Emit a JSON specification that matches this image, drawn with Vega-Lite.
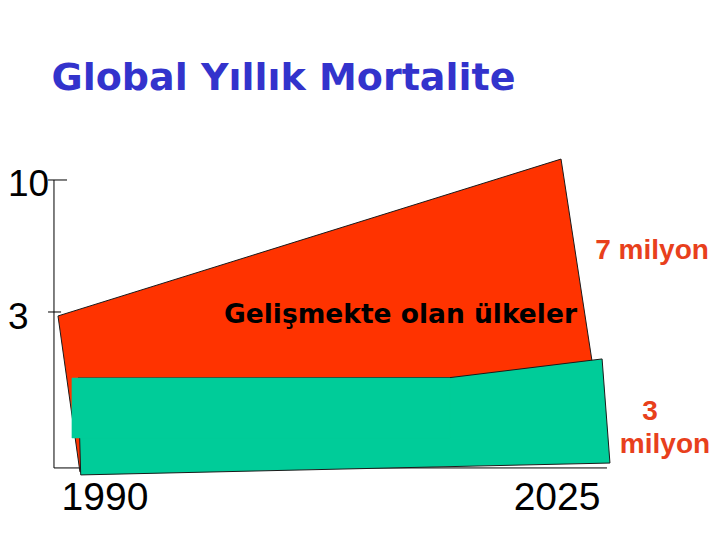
{
  "$schema": "https://vega.github.io/schema/vega-lite/v6.json",
  "width": 720,
  "height": 540,
  "autosize": {"type": "fit", "contains": "padding"},
  "padding": 0,
  "background": "#ffffff",
  "config": {"view": {"stroke": null}},
  "datasets": {
    "shapes": [
      {"shape": "red", "i": 1, "year": 1986.36, "value": 2.79},
      {"shape": "red", "i": 2, "year": 2025.31, "value": 11.11},
      {"shape": "red", "i": 3, "year": 2027.71, "value": 0.40},
      {"shape": "red", "i": 4, "year": 2028.33, "value": -4.85},
      {"shape": "red", "i": 5, "year": 1988.06, "value": -5.48},
      {"shape": "greenquad", "i": 1, "year": 1987.91, "value": -0.50},
      {"shape": "greenquad", "i": 2, "year": 2016.71, "value": -0.48},
      {"shape": "greenquad", "i": 3, "year": 2028.49, "value": 0.51},
      {"shape": "greenquad", "i": 4, "year": 2029.10, "value": -5.01},
      {"shape": "greenquad", "i": 5, "year": 1988.12, "value": -5.64},
      {"shape": "greenrect", "i": 1, "year": 1987.44, "value": -0.50},
      {"shape": "greenrect", "i": 2, "year": 2016.71, "value": -0.50},
      {"shape": "greenrect", "i": 3, "year": 2016.71, "value": -3.68},
      {"shape": "greenrect", "i": 4, "year": 1987.44, "value": -3.68}
    ],
    "axes": [
      {"part": "yaxis", "x1": 1986.05, "x2": 1986.05, "y1": 10, "y2": -5.27},
      {"part": "xaxis", "x1": 1986.05, "x2": 2028.87, "y1": -5.27, "y2": -5.27},
      {"part": "tick10", "x1": 1985.59, "x2": 1987.06, "y1": 10, "y2": 10},
      {"part": "tick3", "x1": 1985.59, "x2": 1986.6, "y1": 3, "y2": 3}
    ],
    "labels": [
      {"kind": "title", "text": "Global Yıllık Mortalite", "year": 2003.82, "value": 14.77},
      {"kind": "ytick", "text": "10", "year": 1982.49, "value": 9.15},
      {"kind": "ytick", "text": "3", "year": 1982.49, "value": 2.10},
      {"kind": "xtick", "text": "1990", "year": 1990, "value": -7.5},
      {"kind": "xtick", "text": "2025", "year": 2025, "value": -7.5},
      {"kind": "region", "text": "Gelişmekte olan ülkeler", "year": 2012.88, "value": 2.42},
      {"kind": "amount", "text": "7 milyon", "year": 2032.36, "value": 5.81},
      {"kind": "amount", "text": "3", "year": 2032.2, "value": -2.73},
      {"kind": "amount", "text": "milyon", "year": 2033.36, "value": -4.48}
    ]
  },
  "encoding": {
    "x": {"field": "year", "type": "quantitative", "scale": {"domain": [1981.87, 2037.62], "nice": false, "zero": false}, "axis": null},
    "y": {"field": "value", "type": "quantitative", "scale": {"domain": [-9.091, 19.545], "nice": false, "zero": false}, "axis": null}
  },
  "layer": [
    {
      "data": {"name": "axes"},
      "mark": {"type": "rule", "color": "#000000", "strokeWidth": 1},
      "encoding": {
        "x": {"field": "x1", "type": "quantitative"},
        "x2": {"field": "x2"},
        "y": {"field": "y1", "type": "quantitative"},
        "y2": {"field": "y2"}
      }
    },
    {
      "data": {"name": "shapes"},
      "transform": [{"filter": "datum.shape == 'red'"}],
      "mark": {"type": "line", "interpolate": "linear-closed", "fill": "#FF3300", "stroke": "#1a1a1a", "strokeWidth": 1},
      "encoding": {"order": {"field": "i", "type": "quantitative"}}
    },
    {
      "data": {"name": "shapes"},
      "transform": [{"filter": "datum.shape == 'greenquad'"}],
      "mark": {"type": "line", "interpolate": "linear-closed", "fill": "#00CC99", "stroke": "#1a1a1a", "strokeWidth": 1},
      "encoding": {"order": {"field": "i", "type": "quantitative"}}
    },
    {
      "data": {"name": "shapes"},
      "transform": [{"filter": "datum.shape == 'greenrect'"}],
      "mark": {"type": "line", "interpolate": "linear-closed", "fill": "#00CC99", "stroke": "#00CC99", "strokeWidth": 0.5},
      "encoding": {"order": {"field": "i", "type": "quantitative"}}
    },
    {
      "data": {"name": "labels"},
      "transform": [{"filter": "datum.kind == 'title'"}],
      "mark": {"type": "text", "font": "DejaVu Sans", "fontWeight": "bold", "fontSize": 38, "color": "#3333CC", "align": "center", "baseline": "alphabetic"},
      "encoding": {"text": {"field": "text"}}
    },
    {
      "data": {"name": "labels"},
      "transform": [{"filter": "datum.kind == 'ytick'"}],
      "mark": {"type": "text", "font": "Liberation Sans", "fontSize": 37, "color": "#000000", "align": "left", "baseline": "alphabetic"},
      "encoding": {"text": {"field": "text"}}
    },
    {
      "data": {"name": "labels"},
      "transform": [{"filter": "datum.kind == 'xtick'"}],
      "mark": {"type": "text", "font": "Liberation Sans", "fontSize": 39, "color": "#000000", "align": "center", "baseline": "alphabetic"},
      "encoding": {"text": {"field": "text"}}
    },
    {
      "data": {"name": "labels"},
      "transform": [{"filter": "datum.kind == 'region'"}],
      "mark": {"type": "text", "font": "DejaVu Sans", "fontWeight": "bold", "fontSize": 26.5, "color": "#000000", "align": "center", "baseline": "alphabetic"},
      "encoding": {"text": {"field": "text"}}
    },
    {
      "data": {"name": "labels"},
      "transform": [{"filter": "datum.kind == 'amount'"}],
      "mark": {"type": "text", "font": "Liberation Sans", "fontWeight": "bold", "fontSize": 28, "color": "#E8401C", "align": "center", "baseline": "alphabetic"},
      "encoding": {"text": {"field": "text"}}
    }
  ]
}
